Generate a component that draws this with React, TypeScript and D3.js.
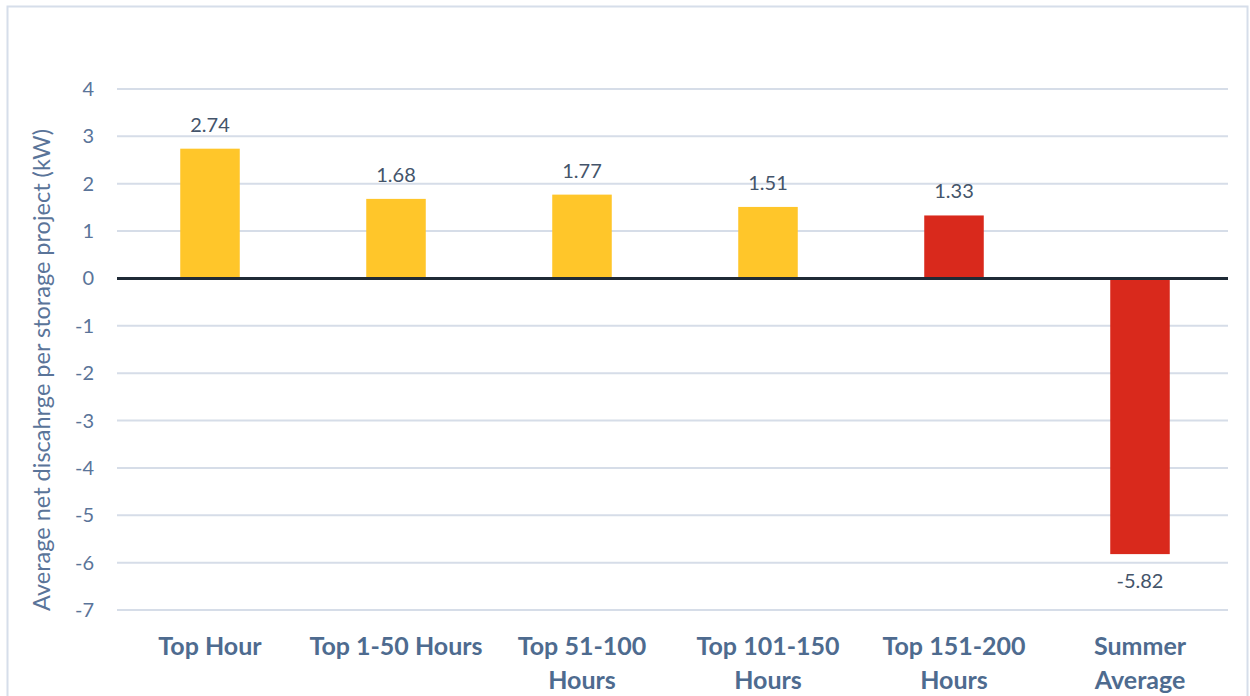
import React from 'react';
import * as d3 from 'd3';

const categories = ['Top Hour', 'Top 1-50 Hours', 'Top 51-100\nHours', 'Top 101-150\nHours', 'Top 151-200\nHours', 'Summer\nAverage'];
const values = [2.74, 1.68, 1.77, 1.51, 1.33, -5.82];
const barColors = ['#FFC62A', '#FFC62A', '#FFC62A', '#FFC62A', '#D9291C', '#D9291C'];
const yTicks = [4, 3, 2, 1, 0, -1, -2, -3, -4, -5, -6, -7];

const W = 1250;
const H = 696;
const FONT = 'Lato, "Open Sans", sans-serif';

export default function App() {
  const x = d3.scaleBand<string>().domain(categories).range([117, 1233]).paddingInner(0.68).paddingOuter(0.34);
  const y = d3.scaleLinear().domain([-7, 4]).range([610, 89]);
  const gridX = [117, 1228];

  return (
    <svg width={W} height={H} style={{ position: 'absolute', left: 0, top: 0 }}>
      <rect x={0} y={0} width={W} height={H} fill="#fff" />
      <rect x={7.5} y={6.5} width={1240} height={700} fill="none" stroke="#D6DEEA" strokeWidth={2} />

      {yTicks.map((t) => (
        <g key={t}>
          {t !== 0 && <line x1={gridX[0]} x2={gridX[1]} y1={y(t)} y2={y(t)} stroke="#D6DDE8" strokeWidth={2} />}
          <text x={94} y={y(t)} dy="0.35em" textAnchor="end" fontFamily={FONT} fontSize={20} fill="#5A7499">{t}</text>
        </g>
      ))}

      {categories.map((c, i) => {
        const v = values[i];
        const bx = x(c)!;
        return (
          <g key={c}>
            <rect x={bx} y={Math.min(y(v), y(0))} width={x.bandwidth()} height={Math.abs(y(v) - y(0))} fill={barColors[i]} />
            <text
              x={bx + x.bandwidth() / 2}
              y={v >= 0 ? y(v) - 17 : y(v) + 34}
              textAnchor="middle"
              fontFamily={FONT}
              fontSize={20}
              fill="#44546A"
            >{v.toFixed(2)}</text>
            {c.split('\n').map((line, j) => (
              <text key={j} x={bx + x.bandwidth() / 2} y={655 + j * 34} textAnchor="middle" fontFamily={FONT} fontWeight="bold" fontSize={25} fill="#4E6B8F">{line}</text>
            ))}
          </g>
        );
      })}

      <line x1={gridX[0]} x2={gridX[1]} y1={y(0)} y2={y(0)} stroke="#1F2A36" strokeWidth={3} />

      <text
        transform={`translate(50,${370}) rotate(-90)`}
        textAnchor="middle"
        fontFamily={FONT}
        fontSize={23.5}
        fill="#5A7499"
      >Average net discahrge per storage project (kW)</text>
    </svg>
  );
}
